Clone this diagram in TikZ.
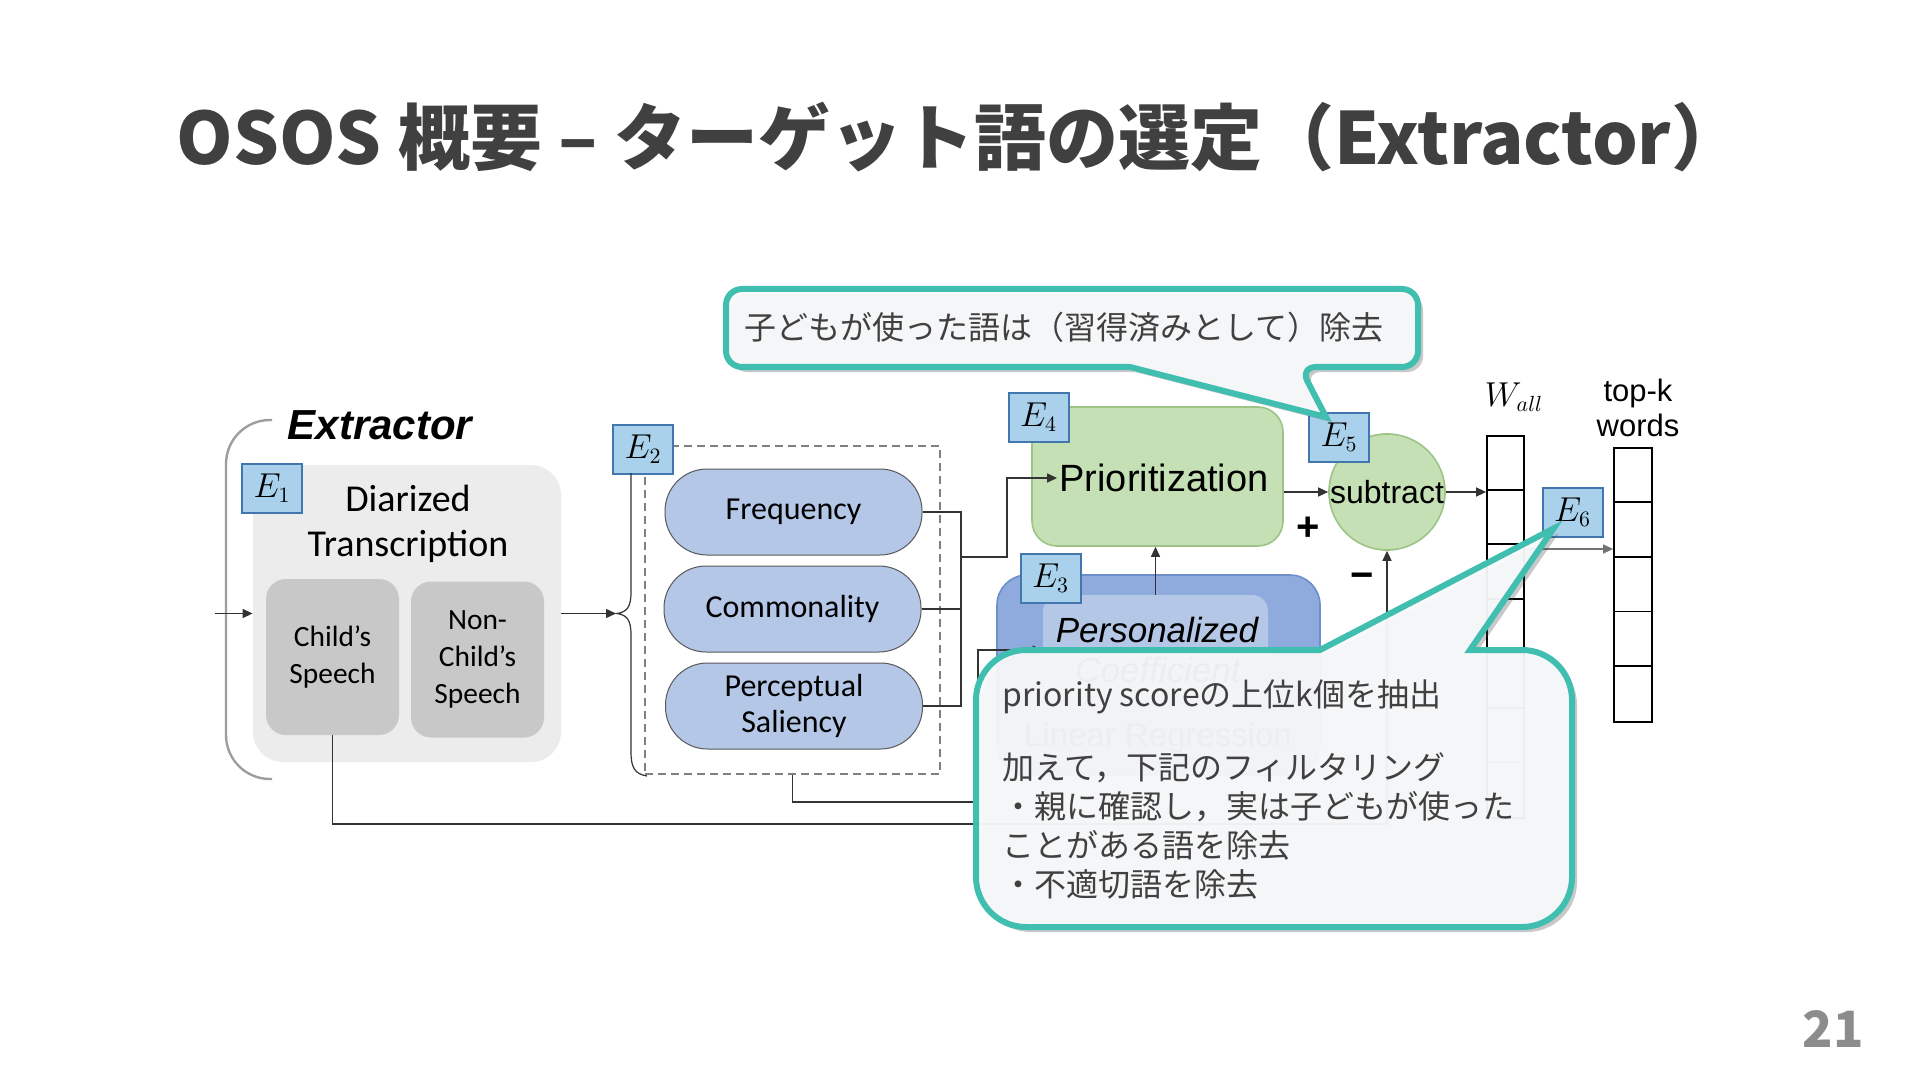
\documentclass[tikz,border=0pt]{standalone}
\usepackage{fontspec}
\usepackage{tikz}
\usetikzlibrary{arrows.meta,calc,positioning,shadows}

\newfontfamily\jpfont{Noto Sans CJK JP}
\newfontfamily\arialfont{Liberation Sans}
\newfontfamily\califont{Carlito}

\definecolor{titlegray}{HTML}{404040}
\definecolor{noteteal}{HTML}{40BEB0}
\definecolor{notefill}{HTML}{F8F9FA}
\definecolor{efill}{HTML}{A9D1EB}
\definecolor{eline}{HTML}{4277AE}
\definecolor{pillblue}{HTML}{B4C7E7}
\definecolor{priogreen}{HTML}{C5E0B4}
\definecolor{prioline}{HTML}{9DC486}
\definecolor{persblue}{HTML}{8FAADC}
\definecolor{persline}{HTML}{6F8FCB}
\definecolor{boxgray}{HTML}{ECECEC}
\definecolor{speechgray}{HTML}{C8C8C8}

\begin{document}
\begin{tikzpicture}[x=0.5pt,y=-0.5pt,
  conn/.style={draw=black!80,line width=0.7pt},
  arr/.style={conn,-{Triangle[length=5pt,width=4.5pt]}},
  ebox/.style={draw=eline,fill=efill,line width=1pt,minimum width=30pt,minimum height=24.5pt,inner sep=0pt,font=\fontsize{16}{16}\selectfont},
  speech/.style={fill=speechgray,rounded corners=10pt,minimum width=66.5pt,minimum height=78pt,align=center,font=\califont\fontsize{14.7}{18.5}\selectfont},
  pill/.style={draw=black!65,fill=pillblue,line width=0.5pt,rounded corners=21pt,minimum width=128.5pt,minimum height=43pt,align=center,font=\califont\fontsize{16}{18}\selectfont},
  note/.style={draw=noteteal,line width=3pt,fill=notefill,fill opacity=0.95,
    drop shadow={shadow xshift=2.5pt,shadow yshift=-2.5pt,opacity=0.3,fill=black!70}},
  notetext/.style={text=titlegray,inner sep=0pt,font=\jpfont\fontsize{16}{19.35}\selectfont}]
  \useasboundingbox[fill=white] (0,0) rectangle (1920,1080);

  % title and page number
  \node[text=titlegray,font=\jpfont\bfseries\fontsize{36}{40}\selectfont] (title) at (960,137) {OSOS 概要 – ターゲット語の選定（Extractor）};
  \node[text=black!45,font=\jpfont\bfseries\fontsize{25}{25}\selectfont] (pagenum) at (1833,1029) {21};

  % extractor
  \draw[black!38,line width=1.2pt,rounded corners=22pt] (272,420) -- (226,420) -- (226,779) -- (272,779);
  \node[font=\arialfont\bfseries\itshape\fontsize{21}{21}\selectfont] (extr) at (380,425) {Extractor};
  \node[fill=boxgray,rounded corners=15pt,minimum width=154pt,minimum height=148.5pt] (diar) at (407,613.5) {};
  \node[align=center,font=\califont\fontsize{19}{22.5}\selectfont] (diartxt) at (408,524) {Diarized\\Transcription};
  \node[speech] (child) at (332.5,657) {Child’s\\Speech};
  \node[speech] (nonchild) at (477.5,659.5) {Non-\\Child’s\\Speech};
  \node[ebox] (e1) at (272,488.5) {$E_1$};
  \coordinate (in) at (215,613.5);
  \coordinate (bracetip) at (616,613.5);
  \draw[arr] (in) -- (diar.west);
  \draw[arr] (diar.east) -- (bracetip);

  % features
  \node[draw=black!50,line width=0.8pt,dash pattern=on 4pt off 2.5pt,minimum width=147.5pt,minimum height=164pt] (feat) at (792.5,610) {};
  \node[ebox] (e2) at (643,449) {$E_2$};
  \draw[conn,line width=0.6pt] (631,473) -- (631,592) .. controls (631,607) and (627,612) .. (617,613.5)
    .. controls (627,615) and (631,620) .. (631,635) -- (631,752) .. controls (631,768) and (635,774) .. (647,776);
  \node[pill] (freq) at (793.5,512) {Frequency};
  \node[pill] (comm) at (792.5,609) {Commonality};
  \node[pill] (perc) at (794,706) {Perceptual\\Saliency};
  \coordinate (fjoin) at (961,557);
  \coordinate (fbend) at (1007,557);
  \draw[conn] (freq.east) -- (freq.east -| fjoin) -- (perc.east -| fjoin) -- (perc.east);
  \draw[conn] (comm.east) -- (comm.east -| fjoin);

  % prioritization
  \node[fill=priogreen,draw=prioline,line width=0.8pt,rounded corners=12.5pt,minimum width=125.5pt,minimum height=69.5pt] (prio) at (1157.5,476.5) {};
  \node[inner sep=1pt,font=\arialfont\fontsize{19}{19}\selectfont] (priotxt) at (1164,478) {Prioritization};
  \node[ebox] (e4) at (1038.5,417.5) {$E_4$};
  \draw[arr] (fjoin) -- (fbend) |- (priotxt.west);

  % personalized coefficient
  \node[fill=persblue,draw=persline,line width=0.8pt,rounded corners=15pt,minimum width=161.5pt,minimum height=100pt] (pers) at (1158.5,675) {};
  \node[fill=pillblue,rounded corners=8pt,minimum width=112.5pt,minimum height=52.5pt] (persin) at (1155.5,647.5) {};
  \node[font=\arialfont\itshape\fontsize{17.5}{17.5}\selectfont] (perstxt) at (1157,630) {Personalized};
  \node[font=\arialfont\itshape\fontsize{17.5}{17.5}\selectfont] (coeftxt) at (1158,670) {Coefficient};
  \node[font=\arialfont\fontsize{16.5}{16.5}\selectfont] (lrtxt) at (1158,738) {Linear Regression};
  \node[ebox] (e3) at (1050.5,578) {$E_3$};
  \draw[arr] (persin.north) -- (persin.north |- prio.south);
  \coordinate (fbot) at (978,802);
  \coordinate (pin) at (978,650);
  \draw[arr] (feat.south) -- (feat.south |- fbot) -- (fbot) -- (pin) -- (persin.west |- pin);

  % subtract
  \node[circle,fill=priogreen,draw=prioline,line width=0.8pt,minimum size=58pt,inner sep=0pt,font=\arialfont\fontsize{16}{16}\selectfont] (sub) at (1387,492) {subtract};
  \node[ebox] (e5) at (1339,437.5) {$E_5$};
  \node[font=\arialfont\bfseries\fontsize{20}{20}\selectfont] (plus) at (1308,529) {+};
  \node[font=\arialfont\bfseries\fontsize{20}{20}\selectfont] (minus) at (1362,581) {−};
  \draw[arr] (prio.east |- sub.west) -- (sub.west);
  \coordinate (cbot) at (333,824);
  \draw[arr] (child.south) -- (child.south |- cbot) -- (cbot -| sub.south) -- (sub.south);

  % word lists
  \node[draw,line width=0.9pt,minimum width=18.5pt,minimum height=191pt,inner sep=0pt] (wall) at (1505.5,627) {};
  \foreach \k in {1,...,6}
    \draw[line width=0.9pt] ($(wall.north west)+(0,54.57*\k)$) -- ($(wall.north east)+(0,54.57*\k)$);
  \node[font=\fontsize{16}{16}\selectfont] (walllbl) at (1514,397) {$W_{all}$};
  \node[draw,line width=0.9pt,minimum width=19pt,minimum height=137pt,inner sep=0pt] (topk) at (1633,585) {};
  \foreach \k in {1,...,4}
    \draw[line width=0.9pt] ($(topk.north west)+(0,54.8*\k)$) -- ($(topk.north east)+(0,54.8*\k)$);
  \node[align=center,font=\arialfont\fontsize{15.5}{17.5}\selectfont] (topklbl) at (1638,408) {top-k\\words};
  \draw[arr] (sub.east) -- (sub.east -| wall.west);
  \coordinate (wk) at (1524,549);
  \draw[arr,draw=black!55] (wk) -- (wk -| topk.west);
  \node[ebox] (e6) at (1572.5,512) {$E_6$};

  % callouts
  \coordinate (tipa) at ($(e5.north west)+(18,5)$);
  \coordinate (tipb) at ($(e6.south west)+(12,-9)$);
  \draw[note,rounded corners=8pt] (900,289) -- (1418,289) -- (1418,367) -- (1300,367) [sharp corners] -- (tipa) -- (1130,367) [rounded corners=8pt] -- (726,367) -- (726,289) -- cycle;
  \node[notetext,anchor=base] (note1) at (1064,340) {子どもが使った語は（習得済みとして）除去};
  \draw[note] (1100,650) [sharp corners] -- (1320,650) -- (tipb) -- (1470,650) [rounded corners=25pt] -- (1572,650) -- (1572,927) -- (976,927) -- (976,650) -- cycle;
  \node[notetext,anchor=base west] (note2) at (1002,706) {priority scoreの上位k個を抽出};
  \node[notetext,anchor=base west,align=left] (note3) at (1002,896) {加えて，下記のフィルタリング\\・親に確認し，実は子どもが使った\\ことがある語を除去\\・不適切語を除去};
\end{tikzpicture}
\end{document}
